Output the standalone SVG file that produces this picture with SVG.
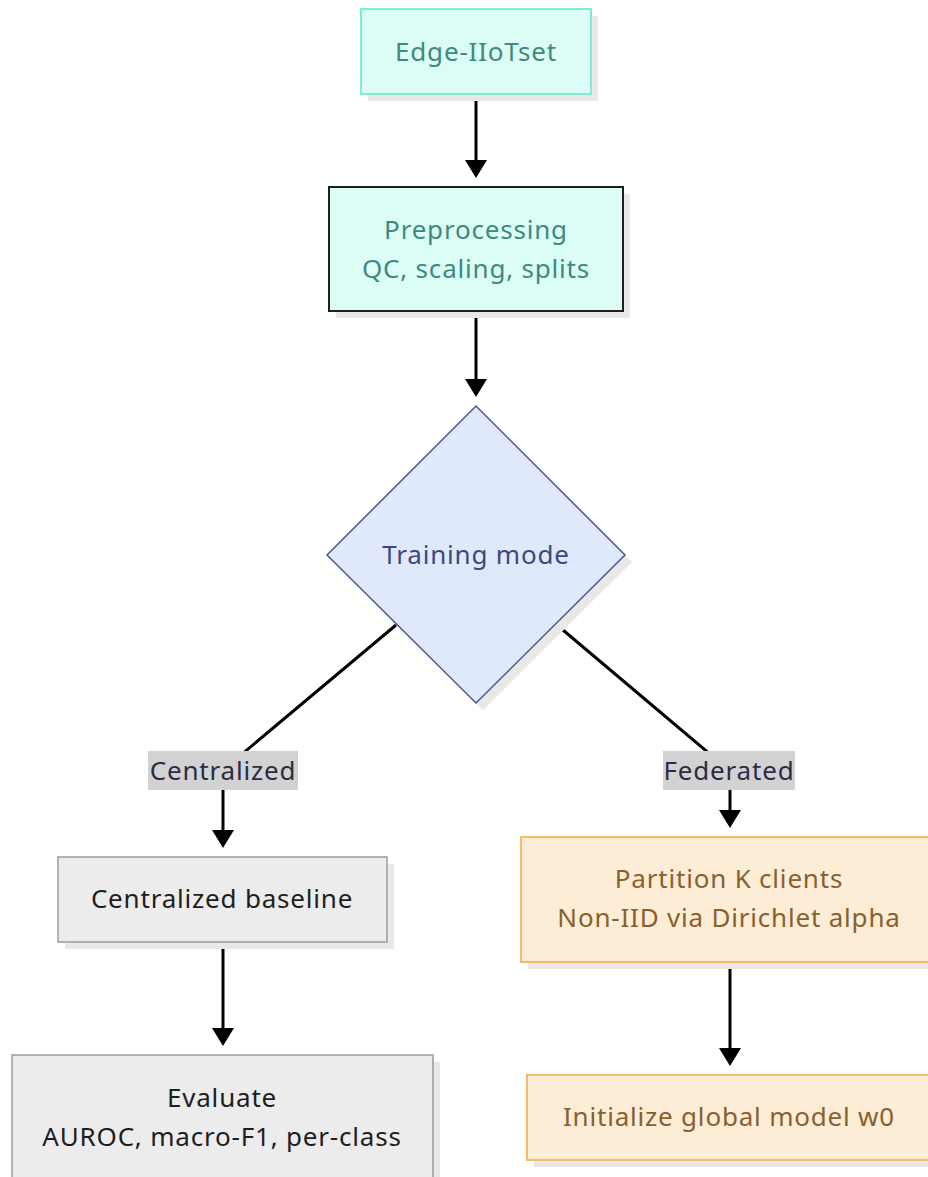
<svg xmlns="http://www.w3.org/2000/svg" width="928" height="1177" viewBox="0 0 928 1177">
  <style>
    .bg { fill: #ffffff; }
    .shadow { fill: #e8e8e8; }
    .lbl { font-family: "Noto Sans", "Open Sans", "DejaVu Sans", sans-serif; font-size: 26px; letter-spacing: 0.8px; text-anchor: middle; dominant-baseline: central; }
    .teal-box { fill: #dcfcf6; }
    .teal-txt { fill: #3c8b7b; }
    .blue-box { fill: #e0e8fb; stroke: #4a5a8c; stroke-width: 1.5; }
    .blue-txt { fill: #3b4a7e; }
    .gray-box { fill: #ececec; stroke: #9a9a9a; stroke-width: 1.5; }
    .gray-txt { fill: #1e1e1e; }
    .orange-box { fill: #fdecd6; stroke: #f5ba6c; stroke-width: 2; }
    .orange-txt { fill: #8a5f2e; }
    .edge { fill: none; stroke: #000000; stroke-width: 3; }
    .edge-lbl-bg { fill: #d2d2d2; }
    .edge-lbl { fill: #2c2c46; }
  </style>
  <defs>
    <marker id="arrow" markerUnits="userSpaceOnUse" markerWidth="18" markerHeight="22" refX="10" refY="11" orient="auto">
      <path d="M0,0 L18,11 L0,22 Z" fill="#000000"/>
    </marker>
  </defs>

  <rect class="bg" x="0" y="0" width="928" height="1177"/>

  <!-- connectors -->
  <g id="connectors">
    <path class="edge" d="M476,94 L476,170" marker-end="url(#arrow)"/>
    <path class="edge" d="M476,311 L476,389" marker-end="url(#arrow)"/>
    <path class="edge" d="M396,625 L223,770 L223,840" marker-end="url(#arrow)"/>
    <path class="edge" d="M557,625 L730,771 L730,820" marker-end="url(#arrow)"/>
    <path class="edge" d="M223,942 L223,1038" marker-end="url(#arrow)"/>
    <path class="edge" d="M730,962 L730,1058" marker-end="url(#arrow)"/>
  </g>

  <!-- edge labels -->
  <g id="edge-labels">
    <g id="label-centralized">
      <rect class="edge-lbl-bg" x="148" y="751" width="150" height="39"/>
      <text class="lbl edge-lbl" x="223" y="770">Centralized</text>
    </g>
    <g id="label-federated">
      <rect class="edge-lbl-bg" x="663" y="751" width="132" height="39"/>
      <text class="lbl edge-lbl" x="729" y="770">Federated</text>
    </g>
  </g>

  <!-- nodes -->
  <g id="node-dataset">
    <rect class="shadow" x="368" y="16" width="230" height="85"/>
    <rect class="teal-box" x="361" y="9" width="230" height="85" stroke="#7eecd6" stroke-width="2"/>
    <text class="lbl teal-txt" x="476" y="51">Edge-IIoTset</text>
  </g>

  <g id="node-preprocessing">
    <rect class="shadow" x="336" y="194" width="294" height="124"/>
    <rect class="teal-box" x="329" y="187" width="294" height="124" stroke="#1e1e1e" stroke-width="2"/>
    <text class="lbl teal-txt" x="476" y="229">Preprocessing</text>
    <text class="lbl teal-txt" x="476" y="268">QC, scaling, splits</text>
  </g>

  <g id="node-mode">
    <polygon class="shadow" points="483,413 632,562 483,710 334,562"/>
    <polygon class="blue-box" points="476,406 625,555 476,703 327,555"/>
    <text class="lbl blue-txt" x="476" y="554">Training mode</text>
  </g>

  <g id="node-baseline">
    <rect class="shadow" x="65" y="864" width="329" height="85"/>
    <rect class="gray-box" x="58" y="857" width="329" height="85"/>
    <text class="lbl gray-txt" x="222" y="898">Centralized baseline</text>
  </g>

  <g id="node-evaluate">
    <rect class="shadow" x="19" y="1062" width="421" height="130"/>
    <rect class="gray-box" x="12" y="1055" width="421" height="130"/>
    <text class="lbl gray-txt" x="222" y="1097">Evaluate</text>
    <text class="lbl gray-txt" x="222" y="1136">AUROC, macro-F1, per-class</text>
  </g>

  <g id="node-partition">
    <rect class="shadow" x="528" y="844" width="420" height="125"/>
    <rect class="orange-box" x="521" y="837" width="420" height="125"/>
    <text class="lbl orange-txt" x="729" y="878">Partition K clients</text>
    <text class="lbl orange-txt" x="729" y="917">Non-IID via Dirichlet alpha</text>
  </g>

  <g id="node-init">
    <rect class="shadow" x="534" y="1082" width="410" height="85"/>
    <rect class="orange-box" x="527" y="1075" width="410" height="85"/>
    <text class="lbl orange-txt" x="729" y="1116">Initialize global model w0</text>
  </g>
</svg>
